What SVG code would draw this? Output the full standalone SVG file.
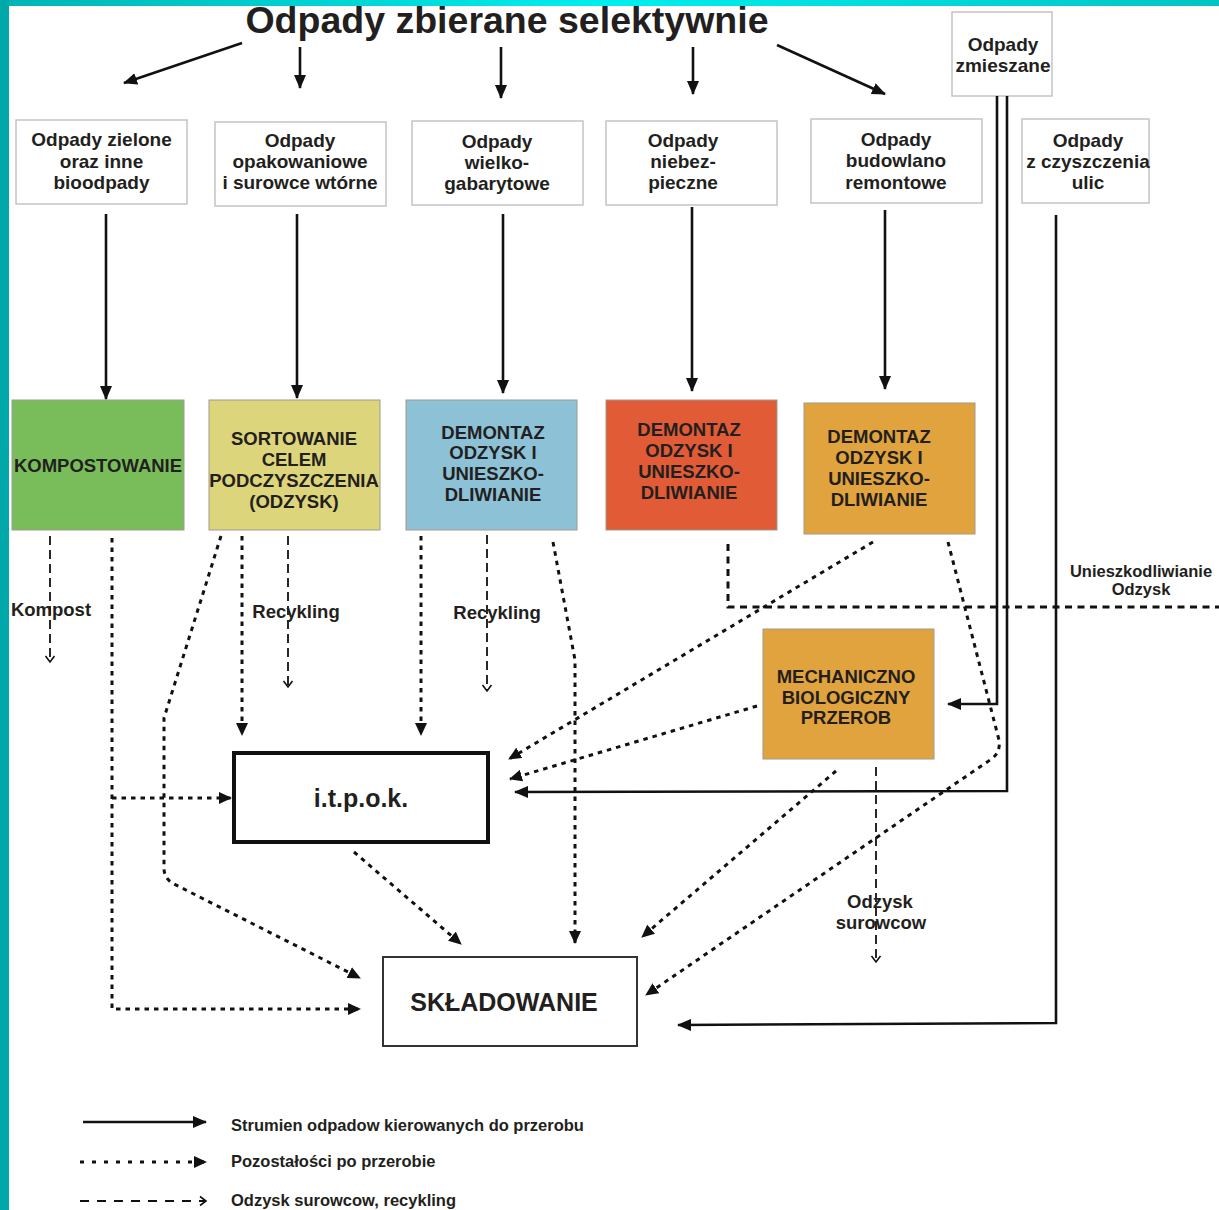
<svg xmlns="http://www.w3.org/2000/svg" width="1219" height="1210" viewBox="0 0 1219 1210">
<defs>
<linearGradient id="topband" x1="0" y1="0" x2="1" y2="0">
<stop offset="0" stop-color="#00b4b4"/>
<stop offset="0.5" stop-color="#00eeee"/>
<stop offset="1" stop-color="#00c4c4"/>
</linearGradient>
<marker id="tri" markerUnits="userSpaceOnUse" markerWidth="14" markerHeight="12" refX="13" refY="6" orient="auto">
<path d="M0,0 L14,6 L0,12 z" fill="#111"/>
</marker>
<marker id="tris" markerUnits="userSpaceOnUse" markerWidth="13" markerHeight="12" refX="12" refY="6" orient="auto">
<path d="M0,0 L13,6 L0,12 z" fill="#111"/>
</marker>
<marker id="chev" markerUnits="userSpaceOnUse" markerWidth="10" markerHeight="12" refX="7" refY="6" orient="auto">
<path d="M1,1.5 L7,6 L1,10.5" fill="none" stroke="#111" stroke-width="1.6"/>
</marker>
<style>
text{font-family:"Liberation Sans",Arial,sans-serif;font-weight:bold;fill:#231f20}
.src rect{fill:#fff;stroke:#c4c4c4;stroke-width:1.5}
.src text{font-size:19px;text-anchor:middle}
.proc rect{stroke:#a09a90;stroke-width:1}
.proc text{font-size:18.5px;text-anchor:middle}
.big text{font-size:25px;text-anchor:middle}
.lbl{font-size:18.5px;text-anchor:middle}
.solid{fill:none;stroke:#111;stroke-width:2.6;marker-end:url(#tri)}
.solidn{fill:none;stroke:#111;stroke-width:2.6}
.dot{fill:none;stroke:#111;stroke-width:3;stroke-dasharray:4.5 5;marker-end:url(#tris)}
.dotn{fill:none;stroke:#111;stroke-width:3;stroke-dasharray:4.5 5}
.dash{fill:none;stroke:#111;stroke-width:1.8;stroke-dasharray:9 5;marker-end:url(#chev)}
.dashn{fill:none;stroke:#111;stroke-width:3;stroke-dasharray:7 5.5}
.leg{font-size:16.5px}
</style>
</defs>
<rect x="0" y="0" width="1219" height="1210" fill="#fff"/>
<rect x="0" y="0" width="1219" height="6" fill="url(#topband)"/>
<rect x="0" y="0" width="9" height="1210" fill="#00a8a9"/>

<text x="507" y="33" style="font-size:37.5px;text-anchor:middle">Odpady zbierane selektywnie</text>

<g id="src-zielone" class="src"><rect x="16" y="120" width="171" height="84"/>
<text x="101.5" y="146">Odpady zielone</text><text x="101.5" y="168">oraz inne</text><text x="101.5" y="189">bioodpady</text></g>
<g id="src-opak" class="src"><rect x="215" y="122" width="171" height="84"/>
<text x="300" y="147">Odpady</text><text x="300" y="168">opakowaniowe</text><text x="300" y="189">i surowce wtórne</text></g>
<g id="src-wielko" class="src"><rect x="412" y="121" width="171" height="84"/>
<text x="497" y="148">Odpady</text><text x="497" y="169">wielko-</text><text x="497" y="190">gabarytowe</text></g>
<g id="src-niebez" class="src"><rect x="606" y="121" width="171" height="84"/>
<text x="683" y="147">Odpady</text><text x="683" y="168">niebez-</text><text x="683" y="189">pieczne</text></g>
<g id="src-budowl" class="src"><rect x="811" y="119" width="171" height="84"/>
<text x="896" y="146">Odpady</text><text x="896" y="167">budowlano</text><text x="896" y="189">remontowe</text></g>
<g id="src-zmiesz" class="src"><rect x="952" y="12" width="100" height="84"/>
<text x="1003" y="51">Odpady</text><text x="1003" y="72">zmieszane</text></g>
<g id="src-ulic" class="src"><rect x="1022" y="119" width="127" height="84"/>
<text x="1088" y="147">Odpady</text><text x="1088" y="168">z czyszczenia</text><text x="1088" y="189">ulic</text></g>

<g id="proc-kompost" class="proc"><rect x="12" y="400" width="172" height="130" fill="#79bd5b"/>
<text x="98" y="472">KOMPOSTOWANIE</text></g>
<g id="proc-sort" class="proc"><rect x="209" y="400" width="171" height="130" fill="#dcd57b"/>
<text x="294" y="445">SORTOWANIE</text><text x="294" y="466">CELEM</text><text x="294" y="487">PODCZYSZCZENIA</text><text x="294" y="508">(ODZYSK)</text></g>
<g id="proc-demont-blue" class="proc"><rect x="406" y="400" width="171" height="130" fill="#8cc1d6"/>
<text x="493" y="439">DEMONTAZ</text><text x="493" y="459">ODZYSK I</text><text x="493" y="480">UNIESZKO-</text><text x="493" y="501">DLIWIANIE</text></g>
<g id="proc-demont-red" class="proc"><rect x="606" y="400" width="171" height="130" fill="#e05b36"/>
<text x="689" y="436">DEMONTAZ</text><text x="689" y="457">ODZYSK I</text><text x="689" y="478">UNIESZKO-</text><text x="689" y="499">DLIWIANIE</text></g>
<g id="proc-demont-orange" class="proc"><rect x="804" y="403" width="171" height="131" fill="#e1a33d"/>
<text x="879" y="443">DEMONTAZ</text><text x="879" y="464">ODZYSK I</text><text x="879" y="485">UNIESZKO-</text><text x="879" y="506">DLIWIANIE</text></g>
<g id="proc-mbp" class="proc"><rect x="763" y="629" width="171" height="130" fill="#e1a33d"/>
<text x="846" y="683">MECHANICZNO</text><text x="846" y="704">BIOLOGICZNY</text><text x="846" y="724">PRZEROB</text></g>

<g id="itpok" class="big"><rect x="234" y="753" width="254" height="89" fill="#fff" stroke="#111" stroke-width="4"/>
<text x="361" y="807">i.t.p.o.k.</text></g>
<g id="skladowanie" class="big"><rect x="383" y="957" width="254" height="89" fill="#fff" stroke="#333" stroke-width="2"/>
<text x="504" y="1011">SKŁADOWANIE</text></g>

<g id="connectors">
<!-- from title -->
<path class="solid" d="M242,43 L124,83"/>
<path class="solid" d="M300,47 L300,88"/>
<path class="solid" d="M501,47 L501,98"/>
<path class="solid" d="M693,47 L693,94"/>
<path class="solid" d="M777,45 L885,94"/>
<!-- sources to processes -->
<path class="solid" d="M106,214 L106,399"/>
<path class="solid" d="M297,214 L297,398"/>
<path class="solid" d="M503,214 L503,393"/>
<path class="solid" d="M692,207 L692,391"/>
<path class="solid" d="M885,210 L885,389"/>
<!-- mixed waste -->
<path class="solid" d="M997,96 L997,704 L948,704"/>
<path class="solid" d="M1007,96 L1007,791 L515,792"/>
<!-- street cleaning -->
<path class="solid" d="M1056,215 L1056,1023 L678,1025"/>

<!-- recycling dashed -->
<path class="dash" d="M50,536 L50,662"/>
<path class="dash" d="M288,536 L288,687"/>
<path class="dash" d="M487,535 L487,691"/>
<path class="dash" d="M876,767 L876,962"/>
<path class="dashn" d="M728,544 L728,607 L1219,607"/>

<!-- residues dotted -->
<path class="dot" d="M112,538 L112,1009 L360,1009"/>
<path class="dot" d="M112,798 L231,798"/>
<path class="dot" d="M221,536 L164,718 L164,868 Q164,879 174,884 L360,978"/>
<path class="dot" d="M242,536 L242,735"/>
<path class="dot" d="M421,536 L421,735"/>
<path class="dot" d="M553,542 L575,660 L575,943"/>
<path class="dot" d="M873,542 L509,759"/>
<path class="dot" d="M948,542 L999,740 Q1001,753 990,760 L646,995"/>
<path class="dot" d="M757,706 L510,779"/>
<path class="dot" d="M836,771 L642,937"/>
<path class="dot" d="M354,852 L461,944"/>
</g>

<g id="labels">
<text class="lbl" x="51" y="616">Kompost</text>
<text class="lbl" x="296" y="618">Recykling</text>
<text class="lbl" x="497" y="619">Recykling</text>
<text class="lbl" x="880" y="908">Odzysk</text>
<text class="lbl" x="881" y="929">surowcow</text>
<text x="1141" y="577" style="font-size:16.5px;text-anchor:middle">Unieszkodliwianie</text>
<text x="1141" y="595" style="font-size:16.5px;text-anchor:middle">Odzysk</text>
</g>

<g id="legend">
<path class="solid" d="M83,1122 L206,1122"/>
<path fill="none" stroke="#111" stroke-width="3" stroke-dasharray="4 8" marker-end="url(#tris)" d="M80,1162 L206,1162"/>
<path fill="none" stroke="#111" stroke-width="1.8" stroke-dasharray="9 8" marker-end="url(#chev)" d="M80,1201 L206,1201"/>
<text class="leg" x="231" y="1131">Strumien odpadow kierowanych do przerobu</text>
<text class="leg" x="231" y="1167">Pozostałości po przerobie</text>
<text class="leg" x="231" y="1206">Odzysk surowcow, recykling</text>
</g>
</svg>
